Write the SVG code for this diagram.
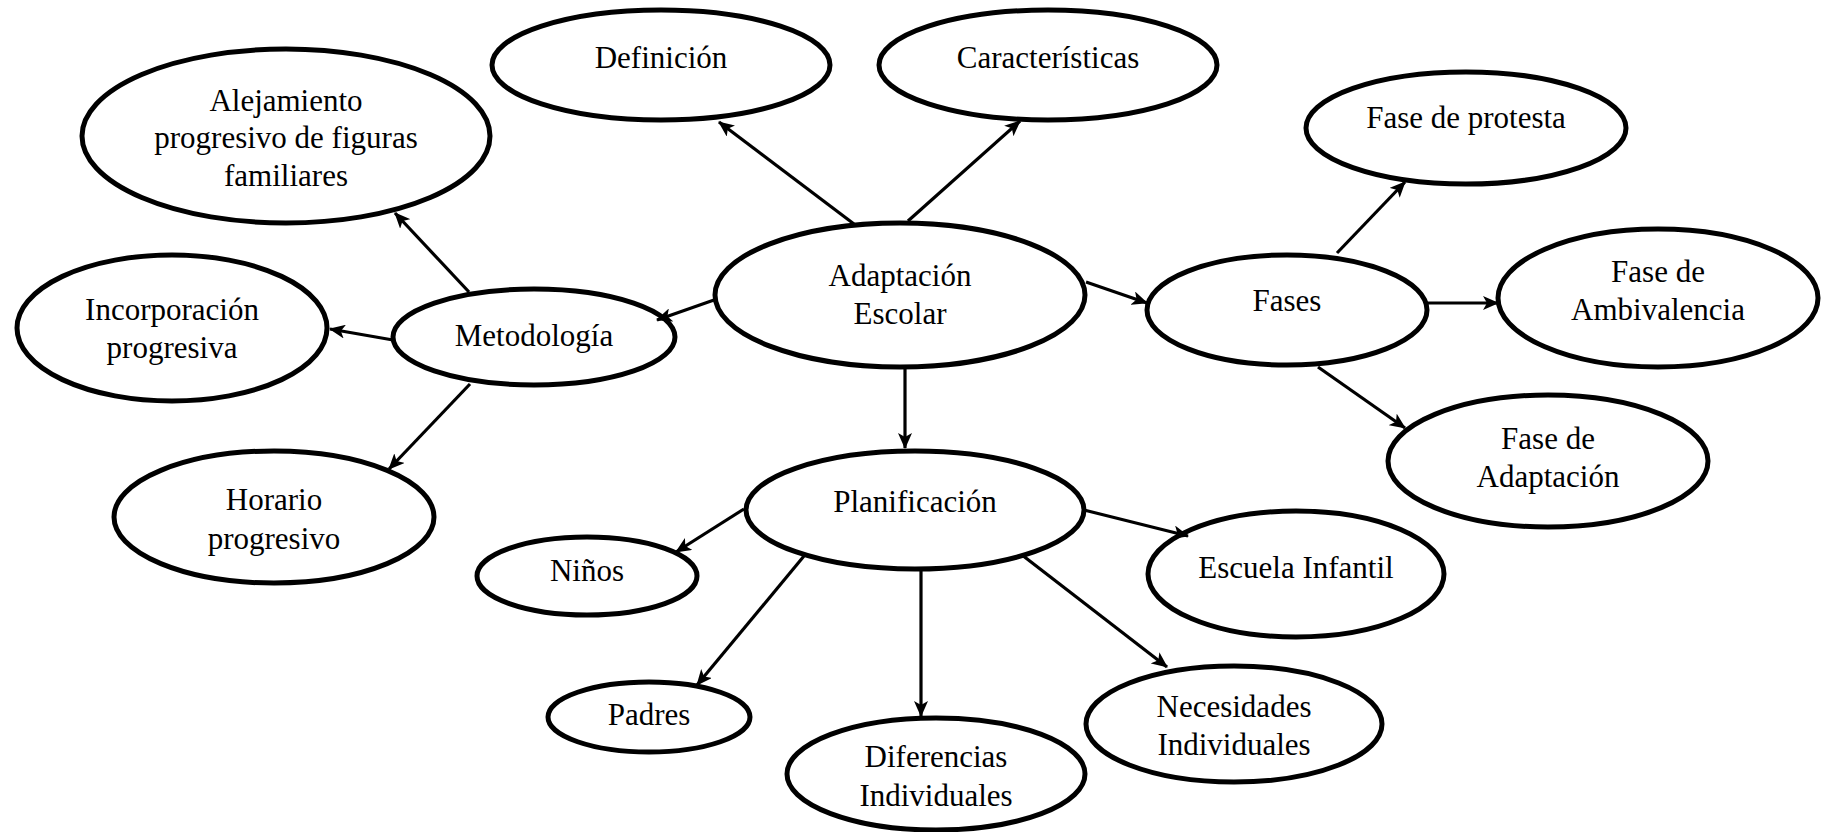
<svg xmlns="http://www.w3.org/2000/svg" width="1821" height="832" viewBox="0 0 1821 832">
<style>
.n ellipse{fill:#fff;stroke:#000;stroke-width:5}
.n text{font-family:"Liberation Serif","Times New Roman",serif;font-size:31px;fill:#000;text-anchor:middle}
.c line{stroke:#000;stroke-width:3.2}
</style>
<defs>
<marker id="ah" viewBox="0 0 16 14" refX="15" refY="7" markerWidth="16" markerHeight="14" markerUnits="userSpaceOnUse" orient="auto">
<path d="M0,0 L16,7 L0,14 L4,7 Z" fill="#000"/>
</marker>
</defs>
<rect width="1821" height="832" fill="#fff"/>
<g id="definicion" class="n"><ellipse cx="661" cy="65" rx="169" ry="55"/><text x="661" y="68">Definición</text></g>
<g id="caracteristicas" class="n"><ellipse cx="1048" cy="65" rx="169" ry="55"/><text x="1048" y="68">Características</text></g>
<g id="alejamiento" class="n"><ellipse cx="286" cy="136" rx="204" ry="87"/><text x="286" y="111">Alejamiento</text><text x="286" y="148">progresivo de figuras</text><text x="286" y="186">familiares</text></g>
<g id="adaptacion-escolar" class="n"><ellipse cx="900" cy="295" rx="185" ry="72"/><text x="900" y="286">Adaptación</text><text x="900" y="324">Escolar</text></g>
<g id="fase-protesta" class="n"><ellipse cx="1466" cy="128" rx="160" ry="56"/><text x="1466" y="128">Fase de protesta</text></g>
<g id="fases" class="n"><ellipse cx="1287" cy="310" rx="140" ry="55"/><text x="1287" y="311">Fases</text></g>
<g id="fase-ambivalencia" class="n"><ellipse cx="1658" cy="298" rx="160" ry="69"/><text x="1658" y="282">Fase de</text><text x="1658" y="320">Ambivalencia</text></g>
<g id="incorporacion" class="n"><ellipse cx="172" cy="328" rx="155" ry="73"/><text x="172" y="320">Incorporación</text><text x="172" y="358">progresiva</text></g>
<g id="metodologia" class="n"><ellipse cx="534" cy="337" rx="141" ry="48"/><text x="534" y="346">Metodología</text></g>
<g id="fase-adaptacion" class="n"><ellipse cx="1548" cy="461" rx="160" ry="66"/><text x="1548" y="449">Fase de</text><text x="1548" y="487">Adaptación</text></g>
<g id="horario" class="n"><ellipse cx="274" cy="517" rx="160" ry="66"/><text x="274" y="510">Horario</text><text x="274" y="549">progresivo</text></g>
<g id="planificacion" class="n"><ellipse cx="915" cy="510" rx="169" ry="59"/><text x="915" y="512">Planificación</text></g>
<g id="ninos" class="n"><ellipse cx="587" cy="576" rx="110" ry="39"/><text x="587" y="581">Niños</text></g>
<g id="escuela-infantil" class="n"><ellipse cx="1296" cy="574" rx="148" ry="63"/><text x="1296" y="578">Escuela Infantil</text></g>
<g id="padres" class="n"><ellipse cx="649" cy="717" rx="101" ry="35"/><text x="649" y="725">Padres</text></g>
<g id="diferencias" class="n"><ellipse cx="936" cy="774" rx="149" ry="56"/><text x="936" y="767">Diferencias</text><text x="936" y="806">Individuales</text></g>
<g id="necesidades" class="n"><ellipse cx="1234" cy="724" rx="148" ry="58"/><text x="1234" y="717">Necesidades</text><text x="1234" y="755">Individuales</text></g>
<g id="connectors" class="c">
<line x1="854" y1="224" x2="719" y2="122" marker-end="url(#ah)"/>
<line x1="908" y1="221" x2="1020" y2="121" marker-end="url(#ah)"/>
<line x1="714" y1="300" x2="657" y2="320" marker-end="url(#ah)"/>
<line x1="1086" y1="282" x2="1147" y2="303" marker-end="url(#ah)"/>
<line x1="905" y1="367" x2="905" y2="448" marker-end="url(#ah)"/>
<line x1="469" y1="292" x2="395" y2="213" marker-end="url(#ah)"/>
<line x1="393" y1="340" x2="330" y2="329" marker-end="url(#ah)"/>
<line x1="470" y1="384" x2="389" y2="469" marker-end="url(#ah)"/>
<line x1="1337" y1="253" x2="1405" y2="182" marker-end="url(#ah)"/>
<line x1="1427" y1="303" x2="1498" y2="303" marker-end="url(#ah)"/>
<line x1="1318" y1="367" x2="1405" y2="428" marker-end="url(#ah)"/>
<line x1="744" y1="509" x2="676" y2="552" marker-end="url(#ah)"/>
<line x1="804" y1="556" x2="697" y2="685" marker-end="url(#ah)"/>
<line x1="921" y1="569" x2="921" y2="716" marker-end="url(#ah)"/>
<line x1="1022" y1="555" x2="1167" y2="667" marker-end="url(#ah)"/>
<line x1="1084" y1="510" x2="1188" y2="536" marker-end="url(#ah)"/>
</g>
</svg>
